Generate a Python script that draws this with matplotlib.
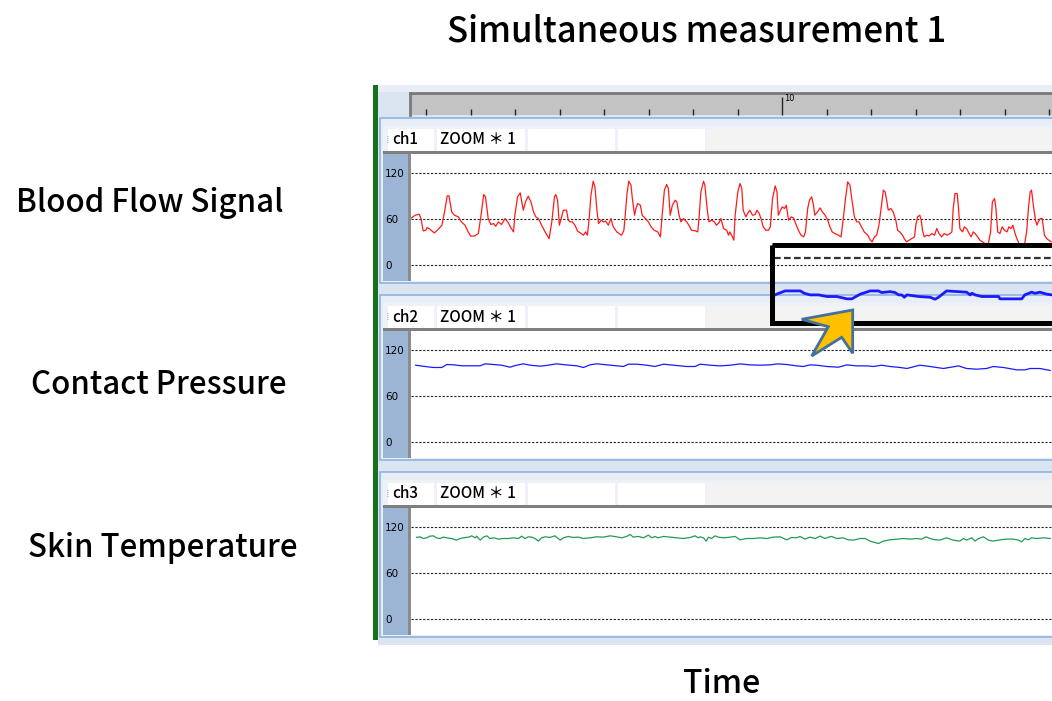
import matplotlib
matplotlib.use("Agg")
import matplotlib.pyplot as plt
from matplotlib.patches import Rectangle, Polygon

W, H = 1052, 701

# ---- data (time in s, values in display units) ----
flow_t = [1.67, 1.75, 1.84, 1.88, 1.93, 1.99, 2.02, 2.08, 2.18, 2.27, 2.35, 2.41, 2.47, 2.51, 2.57, 2.63,
          2.72, 2.79, 2.87, 2.94, 3.00, 3.09, 3.17, 3.23, 3.29, 3.33, 3.39, 3.45, 3.51, 3.56, 3.62, 3.69,
          3.77, 3.84, 3.90, 3.96, 3.99, 4.05, 4.11, 4.14, 4.18, 4.23, 4.29, 4.35, 4.41, 4.46, 4.52, 4.59,
          4.67, 4.76, 4.82, 4.88, 4.91, 4.95, 4.99, 5.03, 5.08, 5.15, 5.19,
          5.23, 5.28, 5.34, 5.40, 5.48, 5.53, 5.58, 5.62, 5.66, 5.70, 5.75, 5.79, 5.83, 5.87, 5.93, 5.98,
          6.03, 6.09, 6.15, 6.20, 6.28, 6.33, 6.39, 6.44, 6.47, 6.51, 6.55, 6.60, 6.63, 6.68, 6.71, 6.75,
          6.81, 6.85, 6.91, 6.99, 7.05, 7.12, 7.20, 7.26, 7.30, 7.35, 7.40, 7.44, 7.48, 7.53, 7.59, 7.63,
          7.68, 7.72, 7.78, 7.85, 7.90, 7.96, 8.05, 8.10, 8.13, 8.17, 8.23, 8.26, 8.31, 8.35, 8.41, 8.47,
          8.52, 8.58, 8.62, 8.68, 8.75, 8.79,
          8.82, 8.88, 8.91, 8.94, 9.00, 9.05, 9.09, 9.12, 9.18, 9.22, 9.27, 9.33, 9.39, 9.43, 9.48, 9.52,
          9.57, 9.63, 9.69, 9.73, 9.78, 9.84, 9.88, 9.91, 9.96, 10.00, 10.05, 10.09, 10.14, 10.20, 10.25,
          10.30, 10.36, 10.42, 10.48, 10.52, 10.57, 10.61, 10.66, 10.70, 10.73, 10.79, 10.85, 10.90, 10.96,
          11.02, 11.07, 11.12, 11.18, 11.26, 11.32, 11.37, 11.42, 11.47, 11.52, 11.56, 11.62, 11.67, 11.72,
          11.78, 11.84, 11.92, 11.98, 12.02, 12.07, 12.12, 12.17, 12.22, 12.27,
          12.31, 12.35, 12.38, 12.44, 12.49, 12.55, 12.59, 12.64, 12.70, 12.74, 12.79, 12.85, 12.91, 12.97,
          13.00, 13.04, 13.09, 13.12, 13.15, 13.19, 13.24, 13.30, 13.36, 13.42, 13.47, 13.52, 13.58, 13.64,
          13.70, 13.77, 13.81, 13.84, 13.88, 13.93, 13.96, 13.99, 14.05, 14.09, 14.14, 14.18, 14.24, 14.29,
          14.33, 14.39, 14.44, 14.50, 14.55, 14.63, 14.68, 14.72, 14.77, 14.80, 14.84, 14.89, 14.94, 14.99,
          15.05, 15.09, 15.14, 15.18, 15.23, 15.27, 15.32, 15.38, 15.44, 15.49, 15.53, 15.57, 15.60, 15.65,
          15.69, 15.72, 15.75, 15.80, 15.84, 15.89, 15.94, 15.99, 16.04]
flow_v = [61.7, 65.2, 66.5, 60.8, 44.7, 45.6, 49.1, 46.9, 42.1, 46.9, 52.1, 69.5, 90.4, 90.4, 69.5, 65.2,
          63.0, 56.5, 52.1, 43.4, 37.8, 38.2, 41.3, 65.2, 92.1, 89.1, 60.8, 53.0, 54.3, 50.8, 56.5, 53.0,
          60.8, 55.6, 48.7, 43.4, 65.2, 89.1, 94.3, 84.7, 71.7, 82.6, 90.0, 82.6, 69.5, 63.0, 60.8, 52.1,
          43.4, 34.7, 56.5, 89.1, 92.1, 84.7, 52.1, 60.8, 71.7, 71.7, 58.7,
          56.5, 56.5, 52.1, 44.3, 41.3, 39.1, 43.4, 39.1, 60.8, 91.3, 109.5, 102.1, 73.9, 54.3, 58.7, 56.5,
          57.4, 52.1, 60.8, 50.0, 43.4, 41.3, 39.1, 45.6, 65.2, 93.4, 109.5, 104.3, 86.9, 65.2, 73.9, 80.4,
          78.2, 65.2, 61.7, 56.5, 50.0, 45.6, 43.4, 36.9, 65.2, 97.8, 105.2, 100.0, 65.2, 78.2, 84.7, 82.6,
          65.2, 56.5, 60.8, 56.5, 52.1, 45.6, 44.7, 43.4, 63.0, 95.6, 109.5, 104.3, 73.9, 56.5, 58.7, 56.5,
          52.1, 55.6, 60.8, 47.8, 45.6, 39.1,
          43.4, 36.9, 32.6, 65.2, 95.6, 106.5, 100.0, 71.7, 63.0, 67.4, 71.7, 65.2, 66.0, 71.7, 67.4, 60.8,
          50.0, 45.6, 45.6, 50.0, 86.9, 103.4, 95.6, 65.2, 71.7, 76.0, 73.9, 78.2, 58.7, 63.0, 61.7,
          54.3, 45.6, 39.1, 36.9, 43.4, 73.9, 84.7, 89.1, 78.2, 65.2, 69.5, 74.7, 69.5, 65.2,
          58.7, 50.0, 43.4, 41.3, 39.1, 36.9, 60.8, 86.9, 108.7, 104.3, 86.9, 63.0, 56.5, 56.5,
          50.0, 43.4, 39.1, 32.6, 30.4, 36.9, 39.1, 52.1, 73.9, 97.8,
          95.6, 82.6, 71.7, 73.9, 69.5, 58.7, 45.6, 43.4, 39.1, 34.7, 30.4, 32.6, 34.7, 36.9,
          52.1, 63.0, 65.2, 58.7, 45.6, 36.9, 39.1, 38.2, 41.3, 39.1, 47.8, 41.3, 36.9, 41.3,
          39.1, 41.3, 43.4, 73.9, 93.4, 93.4, 73.9, 47.8, 43.4, 50.0, 47.8, 43.4, 36.9, 43.4,
          41.3, 36.9, 32.6, 30.4, 28.2, 28.2, 43.4, 82.6, 86.9, 73.9, 43.4, 41.3, 50.0, 45.6,
          43.4, 50.0, 47.8, 52.1, 41.3, 34.7, 28.2, 23.9, 26.0, 43.4, 73.9, 95.6, 97.8, 73.9,
          58.7, 52.1, 56.5, 60.8, 60.8, 39.1, 34.7, 32.6, 30.4]

press_t = [1.76, 1.97, 2.16, 2.35, 2.46, 2.61, 2.80, 2.98, 3.21, 3.32, 3.51, 3.69, 3.88, 4.03, 4.18, 4.33,
           4.56, 4.74, 4.93, 5.12, 5.38, 5.53, 5.68, 5.83, 6.05, 6.28, 6.43, 6.54, 6.73, 6.95, 7.14, 7.33,
           7.55, 7.85, 8.04,
           8.15, 8.38, 8.60, 8.83, 9.05, 9.28, 9.50, 9.72, 9.89, 10.10, 10.32, 10.47, 10.62, 10.77, 11.00,
           11.26, 11.45, 11.67, 11.90, 12.05, 12.23, 12.42, 12.65, 12.80, 13.09, 13.32, 13.62, 13.96, 14.14,
           14.37, 14.59, 14.74, 14.97, 15.27, 15.45, 15.57, 15.79, 16.02]
press_v = [100.4, 98.7, 97.4, 97.4, 101.3, 100.9, 99.6, 99.6, 99.6, 102.2, 101.3, 100.4, 97.8, 100.4, 102.2,
           100.4, 99.1, 100.4, 102.2, 100.9, 99.6, 97.4, 100.9, 102.2, 100.9, 99.6, 98.7, 101.7, 101.7, 100.4,
           98.7, 101.7, 100.4, 98.7, 98.7,
           101.7, 100.4, 99.5, 100.4, 102.1, 100.8, 100.4, 100.8, 102.1, 101.3, 99.5, 98.7, 100.8, 100.4, 98.7,
           97.8, 100.8, 99.5, 99.5, 98.7, 100.4, 98.7, 97.4, 96.1, 100.4, 98.7, 96.1, 99.5, 96.1,
           95.2, 96.1, 98.7, 97.4, 94.3, 94.3, 96.1, 96.1, 93.5]

# magnified contact-pressure excerpt shown in the callout box
zoom_t = [9.80, 9.87, 10.06, 10.40, 10.49, 10.62, 10.81, 11.00, 11.22, 11.45, 11.56, 11.75, 11.97, 12.16,
          12.23, 12.42, 12.53, 12.61, 12.68, 12.74, 12.80, 13.06, 13.32, 13.43, 13.51, 13.69, 14.14, 14.22,
          14.26, 14.33, 14.48, 14.86, 14.89, 15.38, 15.45, 15.60, 15.68, 15.79, 15.94, 16.06]
zoom_v = [99.2, 100.0, 101.8, 101.8, 100.5, 99.6, 99.6, 98.7, 98.7, 97.4, 97.4, 100.0, 101.8, 101.8,
          100.9, 101.4, 100.9, 99.6, 99.6, 98.3, 99.6, 98.7, 98.3, 97.2, 98.3, 101.8, 101.1, 99.6,
          100.5, 99.6, 98.7, 98.7, 97.4, 97.4, 99.6, 101.1, 100.5, 101.1, 100.0, 99.6]

temp_t = [1.78, 1.86, 1.93, 2.01, 2.08, 2.16, 2.23, 2.31, 2.38, 2.46, 2.57, 2.68, 2.76, 2.83, 2.95, 3.02,
          3.10, 3.13, 3.21, 3.28, 3.36, 3.43, 3.52, 3.62, 3.73, 3.84, 3.96, 4.07, 4.14, 4.22, 4.29, 4.37,
          4.44, 4.52, 4.59, 4.67, 4.78, 4.89, 5.01, 5.08, 5.19, 5.30, 5.42, 5.53, 5.68, 5.83, 5.98, 6.13,
          6.28, 6.39, 6.50, 6.58, 6.65, 6.77, 6.88, 6.99, 7.07, 7.14, 7.21, 7.33, 7.48, 7.63, 7.78, 7.93,
          8.04, 8.11,
          8.15, 8.23, 8.29, 8.34, 8.41, 8.49, 8.56, 8.68, 8.83, 8.94, 9.05, 9.20, 9.35, 9.50, 9.65, 9.80,
          9.95, 10.10, 10.21, 10.32, 10.40, 10.51, 10.62, 10.74, 10.85, 10.96, 11.04, 11.11, 11.22, 11.37,
          11.48, 11.60, 11.75, 11.86, 11.97, 12.16, 12.27, 12.42, 12.57, 12.72, 12.87, 13.02, 13.13, 13.23,
          13.32, 13.43, 13.54, 13.69, 13.84, 13.99, 14.07, 14.14, 14.26, 14.33, 14.41, 14.52, 14.63, 14.74,
          14.89, 15.04, 15.19, 15.31, 15.38, 15.45, 15.53, 15.60, 15.72, 15.87, 16.02]
temp_v = [106.6, 107.4, 105.2, 106.1, 108.3, 108.7, 106.1, 105.2, 107.0, 106.1, 105.2, 103.1, 105.2, 106.1,
          107.0, 108.7, 106.1, 108.3, 103.1, 107.0, 108.7, 105.2, 106.1, 104.4, 105.2, 105.2, 106.1, 105.2,
          108.3, 105.2, 107.4, 107.0, 105.2, 101.8, 106.1, 107.4, 106.6, 108.7, 103.1, 106.1, 107.9, 106.6,
          107.0, 105.2, 106.1, 107.4, 107.0, 108.7, 107.4, 106.1, 107.9, 110.5, 107.0, 107.9, 106.1, 109.6,
          106.1, 107.9, 106.1, 107.9, 107.0, 106.1, 105.2, 106.6, 108.7, 106.1,
          107.4, 106.1, 101.8, 107.0, 105.2, 108.7, 107.0, 106.1, 107.0, 107.9, 103.5, 105.2, 105.2, 106.1,
          105.2, 107.0, 107.4, 103.5, 106.6, 106.1, 107.9, 104.4, 107.0, 105.2, 108.3, 105.2, 107.0, 107.9,
          105.2, 106.1, 103.5, 103.1, 105.2, 105.2, 101.8, 98.7, 101.8, 103.5, 104.4, 105.2, 104.4, 105.2,
          104.4, 107.4, 105.2, 103.5, 103.1, 106.1, 103.1, 101.8, 105.2, 103.1, 106.1, 101.8, 105.2, 107.4,
          103.1, 101.8, 103.5, 104.4, 104.4, 103.1, 100.9, 105.2, 103.5, 106.1, 105.2, 106.1, 105.2]

channels = ["ch1", "ch2", "ch3"]
row_labels = ["Blood Flow Signal", "Contact Pressure", "Skin Temperature"]
grid_vals = [0, 60, 120]
ruler_ticks = list(range(2, 17))

FONT = ["Noto Sans CJK JP", "DejaVu Sans"]
NARROW = ["Liberation Sans Narrow", "DejaVu Sans"]
T0, T1 = 1.656, 16.06
YL = (-20, 145)


def frac(x0, y0, x1, y1):
    return [x0 / W, 1 - y1 / H, (x1 - x0) / W, (y1 - y0) / H]


def rect(ax, x0, y0, x1, y1, fc, ec="none", lw=0, z=1):
    ax.add_patch(Rectangle((x0, y0), x1 - x0, y1 - y0, fc=fc, ec=ec, lw=lw, zorder=z))


fig = plt.figure(figsize=(W / 100, H / 100), dpi=100)
bg = fig.add_axes([0, 0, 1, 1])
bg.set_xlim(0, W); bg.set_ylim(H, 0); bg.axis("off")

# window chrome
rect(bg, 378, 85, 1052, 645, "#dbe5f1")
rect(bg, 373, 85, 378, 640, "#17701a")
rect(bg, 378, 85, 1052, 92, "#e8eef6")

bg.text(697, 32, "Simultaneous measurement 1", ha="center", va="center", fontsize=25,
        family=FONT, weight="medium")
bg.text(722, 684, "Time", ha="center", va="center", fontsize=23, family=FONT, weight="medium")

heads = [129, 306, 483]
label_x = [150, 159, 163]
label_y = [203, 385, 548]
for hy, name, lab, lx, ly in zip(heads, channels, row_labels, label_x, label_y):
    bot = hy + 25 + 126.5
    rect(bg, 380, hy - 11, 1060, bot + 2, "#e7eef7", "#8fb3de", 1.2, z=2)
    rect(bg, 383, hy - 3, 1052, hy + 23, "#eef2f8", z=2)
    for c0, c1 in [(388, 434), (437, 525), (528, 615), (618, 705)]:
        rect(bg, c0, hy, c1, hy + 22, "white", z=3)
    rect(bg, 707, hy, 1052, hy + 22, "#f3f3f3", z=3)
    rect(bg, 383, hy + 22, 1052, hy + 25, "#7f7f7f", z=3)
    rect(bg, 383, hy + 25, 409, bot, "#9cb5d4", z=3)
    rect(bg, 408, hy + 25, 411, bot, "#8c8c8c", z=3)
    bg.text(386, hy + 11, "⁞", ha="left", va="center", fontsize=8, color="#999", zorder=4)
    bg.text(392, hy + 11, name, ha="left", va="center", fontsize=11, family=FONT,
            weight="medium", zorder=4)
    bg.text(440, hy + 11, "ZOOM ＊ 1", ha="left", va="center", fontsize=11, family=FONT,
            weight="medium", zorder=4)
    bg.text(lx, ly, lab, ha="center", va="center", fontsize=22.5, family=FONT, weight="medium")

# time ruler
ru = fig.add_axes(frac(410, 93, 1052, 115))
ru.set_facecolor("#c3c3c3")
ru.set_xlim(T0 - 1 / 44.5, T1); ru.set_ylim(0, 1)
for s in ["right", "bottom"]:
    ru.spines[s].set_visible(False)
for s in ["top", "left"]:
    ru.spines[s].set_color("#7a7a7a"); ru.spines[s].set_linewidth(2)
ru.set_yticks([])
ru.set_xticks([10]); ru.set_xticklabels([])
ru.set_xticks([t for t in ruler_ticks if t != 10], minor=True)
ru.tick_params(axis="x", which="major", direction="in", length=13, width=1, color="#222")
ru.tick_params(axis="x", which="minor", direction="in", length=4.5, width=1, color="#222")
ru.text(10.04, 0.95, "10", fontsize=6, ha="left", va="top", family=NARROW)

# channel plots
series = [(flow_t, flow_v, "#ff1a1a"), (press_t, press_v, "#1a1aff"), (temp_t, temp_v, "#239a57")]
for hy, (t, v, col) in zip(heads, series):
    ax = fig.add_axes(frac(411, hy + 25, 1052, hy + 25 + 126.5))
    ax.plot(t, v, color=col, lw=0.9)
    ax.set_xlim(T0, T1); ax.set_ylim(*YL)
    ax.set_xticks([])
    ax.set_yticks(grid_vals)
    ax.set_yticklabels([str(g) for g in grid_vals], fontsize=7.5, family=NARROW)
    for lbl in ax.get_yticklabels():
        lbl.set_ha("left")
    ax.tick_params(axis="y", length=0, pad=18.5)
    ax.grid(axis="y", color="#222", lw=0.8, ls=(0, (2, 1.5)))
    for s in ax.spines.values():
        s.set_visible(False)

# callout with magnified pressure trace
ins = fig.add_axes(frac(774, 247, 1052, 320))
ins.plot(zoom_t, zoom_v, color="#1a1aff", lw=2)
ins.axhline(120, color="#333", lw=1.6, ls=(0, (3, 1.5)))
ins.set_xlim(9.81, T1); ins.set_ylim(85.7, 126.1)
ins.axis("off")
ins.patch.set_visible(True); ins.patch.set_facecolor("white")

top = fig.add_axes([0, 0, 1, 1])
top.set_xlim(0, W); top.set_ylim(H, 0); top.axis("off"); top.patch.set_alpha(0)
top.add_patch(Rectangle((771.5, 245), 290, 77.5, fc="none", ec="black", lw=3.6))
top.add_patch(Polygon([(852.7, 310), (801.7, 319.3), (828.3, 326.7), (811.7, 356),
                       (841.7, 337.3), (852.7, 353.3)], closed=True,
                      fc="#ffc000", ec="#41719c", lw=2, joinstyle="miter"))

fig.savefig("out.png", dpi=100)
